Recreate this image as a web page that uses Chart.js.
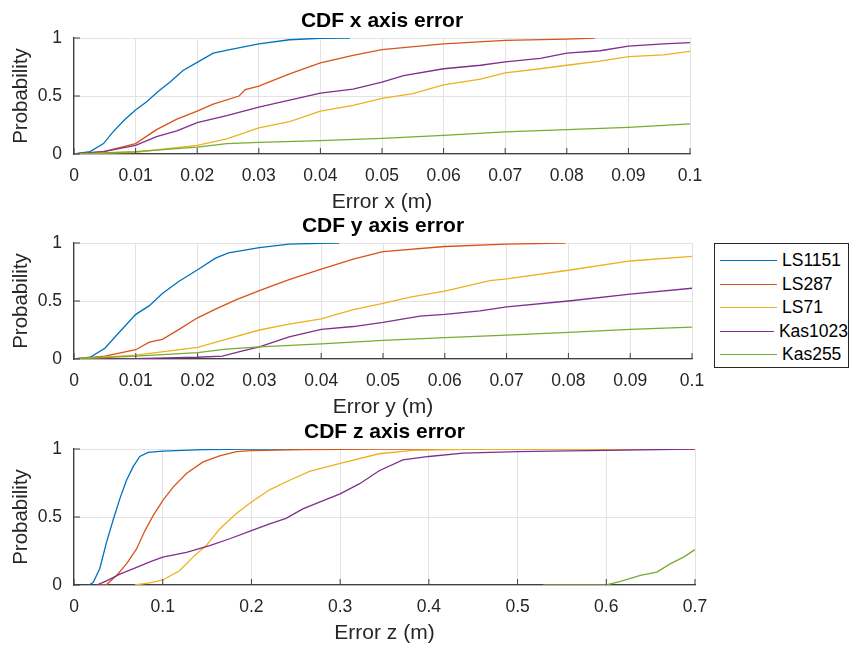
<!DOCTYPE html>
<html>
<head>
<meta charset="utf-8">
<script src="https://cdn.jsdelivr.net/npm/chart.js@4.4.1/dist/chart.umd.min.js"></script>
<style>
  body { margin: 0; background: #fff; }
  #fig { position: relative; width: 850px; height: 646px; overflow: hidden; font-family: "Liberation Sans", Arial, sans-serif; }
  #fig canvas { position: absolute; left: 0; }
  #legend { position: absolute; left: 714px; top: 243px; width: 135px; height: 125px; box-sizing: border-box;
            border: 1px solid #262626; background: #fff; padding-top: 5px; }
  #legend .item { height: 23.5px; display: flex; align-items: center; }
  #legend .item i { display: inline-block; width: 57px; height: 0; border-top: 1.3px solid; margin: 0 5px 0 5px; }
  #legend .item span { font-size: 17.5px; color: #000; }
</style>
</head>
<body>
<div id="fig">
  <canvas id="cx" width="720" height="215" style="top:0px"></canvas>
  <canvas id="cy" width="720" height="215" style="top:205px"></canvas>
  <canvas id="cz" width="720" height="235" style="top:411px"></canvas>
  <div id="legend"></div>
</div>
<script>
// series, in plotting order
const names = ['LS1151', 'LS287', 'LS71', 'Kas1023', 'Kas255'];
const colors = ['#0072BD', '#D95319', '#EDB120', '#7E2F8E', '#77AC30'];

// tick values and labels
const xyTicks = [0, 0.01, 0.02, 0.03, 0.04, 0.05, 0.06, 0.07, 0.08, 0.09, 0.1];
const xyTickLabels = ['0', '0.01', '0.02', '0.03', '0.04', '0.05', '0.06', '0.07', '0.08', '0.09', '0.1'];
const zTicks = [0, 0.1, 0.2, 0.3, 0.4, 0.5, 0.6, 0.7];
const zTickLabels = ['0', '0.1', '0.2', '0.3', '0.4', '0.5', '0.6', '0.7'];
const probTicks = [0, 0.5, 1];
const probTickLabels = ['0', '0.5', '1'];

// CDF x axis error: error (m) / probability
const errX_LS1151 = [0, 0.0026, 0.0048, 0.0064, 0.0083, 0.010, 0.0118, 0.0137, 0.0156, 0.0177, 0.020, 0.0226, 0.0253, 0.030, 0.035, 0.040, 0.0448];
const cdfX_LS1151 = [0, 0.02, 0.09, 0.195, 0.30, 0.38, 0.45, 0.54, 0.62, 0.72, 0.79, 0.87, 0.90, 0.95, 0.985, 0.998, 1];
const errX_LS287 = [0, 0.0048, 0.010, 0.0134, 0.0167, 0.020, 0.0226, 0.0268, 0.0278, 0.030, 0.035, 0.040, 0.0453, 0.050, 0.060, 0.070, 0.080, 0.0846];
const cdfX_LS287 = [0, 0.02, 0.09, 0.21, 0.30, 0.37, 0.43, 0.50, 0.555, 0.585, 0.69, 0.785, 0.85, 0.90, 0.95, 0.98, 0.99, 1];
const errX_LS71 = [0, 0.010, 0.020, 0.0248, 0.030, 0.035, 0.040, 0.0453, 0.050, 0.055, 0.060, 0.066, 0.070, 0.0757, 0.080, 0.0854, 0.090, 0.0957, 0.100];
const cdfX_LS71 = [0, 0.015, 0.075, 0.13, 0.225, 0.28, 0.37, 0.42, 0.48, 0.52, 0.595, 0.645, 0.70, 0.735, 0.765, 0.80, 0.84, 0.855, 0.885];
const errX_Kas1023 = [0, 0.0048, 0.010, 0.0134, 0.0167, 0.020, 0.0248, 0.030, 0.035, 0.040, 0.0453, 0.050, 0.0535, 0.060, 0.066, 0.070, 0.0757, 0.080, 0.0854, 0.090, 0.0957, 0.100];
const cdfX_Kas1023 = [0, 0.02, 0.075, 0.15, 0.20, 0.27, 0.33, 0.405, 0.465, 0.525, 0.56, 0.62, 0.675, 0.735, 0.765, 0.795, 0.825, 0.87, 0.89, 0.93, 0.95, 0.96];
const errX_Kas255 = [0, 0.010, 0.020, 0.0248, 0.030, 0.040, 0.050, 0.060, 0.070, 0.080, 0.090, 0.100];
const cdfX_Kas255 = [0, 0.02, 0.06, 0.09, 0.10, 0.115, 0.135, 0.16, 0.19, 0.21, 0.23, 0.26];

// CDF y axis error
const errY_LS1151 = [0, 0.0026, 0.005, 0.0074, 0.010, 0.0122, 0.0143, 0.017, 0.020, 0.0229, 0.025, 0.030, 0.0348, 0.040, 0.0429];
const cdfY_LS1151 = [0, 0.015, 0.093, 0.235, 0.385, 0.46, 0.565, 0.67, 0.77, 0.87, 0.915, 0.96, 0.99, 0.998, 1];
const errY_LS287 = [0, 0.005, 0.010, 0.0122, 0.0143, 0.017, 0.020, 0.0229, 0.0262, 0.030, 0.0348, 0.040, 0.0452, 0.0495, 0.050, 0.060, 0.070, 0.0795];
const cdfY_LS287 = [0, 0.025, 0.08, 0.145, 0.17, 0.255, 0.355, 0.43, 0.51, 0.59, 0.685, 0.775, 0.86, 0.92, 0.925, 0.97, 0.99, 1];
const errY_LS71 = [0, 0.010, 0.020, 0.025, 0.030, 0.0348, 0.040, 0.0452, 0.050, 0.0546, 0.060, 0.0673, 0.070, 0.080, 0.090, 0.100];
const cdfY_LS71 = [0, 0.033, 0.10, 0.175, 0.25, 0.30, 0.345, 0.425, 0.48, 0.535, 0.585, 0.675, 0.69, 0.765, 0.845, 0.885];
const errY_Kas1023 = [0, 0.010, 0.020, 0.024, 0.0273, 0.030, 0.0348, 0.040, 0.0452, 0.050, 0.056, 0.060, 0.0657, 0.070, 0.080, 0.090, 0.100];
const cdfY_Kas1023 = [0, 0.003, 0.015, 0.025, 0.07, 0.105, 0.19, 0.255, 0.28, 0.315, 0.37, 0.385, 0.415, 0.45, 0.50, 0.56, 0.61];
const errY_Kas255 = [0, 0.010, 0.020, 0.0246, 0.030, 0.040, 0.050, 0.060, 0.070, 0.080, 0.090, 0.100];
const cdfY_Kas255 = [0, 0.025, 0.055, 0.085, 0.105, 0.13, 0.16, 0.185, 0.205, 0.23, 0.255, 0.275];

// CDF z axis error
const errZ_LS1151 = [0.0172, 0.0217, 0.029, 0.0367, 0.0442, 0.0517, 0.0592, 0.0667, 0.0742, 0.0836, 0.100, 0.1455, 0.200, 0.300];
const cdfZ_LS1151 = [0, 0.02, 0.12, 0.315, 0.48, 0.635, 0.77, 0.87, 0.945, 0.975, 0.985, 0.995, 1, 1];
const errZ_LS287 = [0.0274, 0.0367, 0.048, 0.0592, 0.0705, 0.080, 0.0892, 0.100, 0.1117, 0.1267, 0.1455, 0.1642, 0.183, 0.200, 0.258, 0.344, 0.700];
const cdfZ_LS287 = [0, 0.003, 0.07, 0.155, 0.265, 0.40, 0.51, 0.62, 0.72, 0.82, 0.905, 0.95, 0.98, 0.988, 0.995, 1, 1];
const errZ_LS71 = [0.0686, 0.0855, 0.100, 0.119, 0.134, 0.149, 0.164, 0.183, 0.200, 0.2205, 0.243, 0.2655, 0.300, 0.344, 0.3818, 0.4385, 0.700];
const cdfZ_LS71 = [0, 0.015, 0.037, 0.105, 0.205, 0.29, 0.41, 0.525, 0.61, 0.70, 0.77, 0.835, 0.895, 0.965, 0.99, 0.997, 1];
const errZ_Kas1023 = [0.0255, 0.0367, 0.0517, 0.0705, 0.0855, 0.100, 0.1267, 0.153, 0.1755, 0.200, 0.2205, 0.239, 0.258, 0.2767, 0.300, 0.322, 0.344, 0.3707, 0.400, 0.4385, 0.500, 0.600, 0.700];
const cdfZ_Kas1023 = [0, 0.03, 0.08, 0.13, 0.17, 0.205, 0.24, 0.29, 0.34, 0.40, 0.45, 0.49, 0.56, 0.61, 0.67, 0.745, 0.84, 0.92, 0.945, 0.97, 0.98, 0.99, 1];
const errZ_Kas255 = [0.529, 0.600, 0.615, 0.6385, 0.657, 0.672, 0.687, 0.700];
const cdfZ_Kas255 = [0, 0, 0.025, 0.07, 0.095, 0.155, 0.205, 0.26];

Chart.defaults.font.family = '"Liberation Sans", Arial, sans-serif';

// small inward tick marks like matlab axes
const inwardTicks = {
  id: 'inwardTicks',
  afterDraw(chart) {
    const { ctx, chartArea: a, scales: { x, y } } = chart;
    ctx.save();
    ctx.strokeStyle = '#404040';
    ctx.lineWidth = 1;
    ctx.beginPath();
    x.ticks.forEach(t => {
      const px = x.getPixelForValue(t.value);
      ctx.moveTo(px, a.bottom);
      ctx.lineTo(px, a.bottom - 6);
    });
    y.ticks.forEach(t => {
      const py = y.getPixelForValue(t.value);
      ctx.moveTo(a.left, py);
      ctx.lineTo(a.left + 6, py);
    });
    ctx.stroke();
    ctx.restore();
  }
};

function makeCdf(id, title, xLabel, series, ticks, tickLabels, xMax, right) {
  const datasets = series.map((s, i) => ({
    label: names[i],
    data: s[0].map((v, k) => ({ x: v, y: s[1][k] })),
    borderColor: colors[i],
    borderWidth: 1.3,
    pointRadius: 0,
    tension: 0,
    order: series.length - i
  }));
  return new Chart(document.getElementById(id), {
    type: 'line',
    data: { datasets },
    plugins: [inwardTicks],
    options: {
      responsive: false,
      animation: false,
      layout: { padding: { left: 0, right: 720 - right, top: 0, bottom: 0 } },
      plugins: {
        legend: { display: false },
        tooltip: { enabled: false },
        title: {
          display: true, text: title, fullSize: false, color: '#000',
          font: { size: 21, weight: 'bold' }, padding: { top: 8.4, bottom: 4.4 }
        }
      },
      scales: {
        x: {
          type: 'linear', min: 0, max: xMax,
          afterBuildTicks: s => { s.ticks = ticks.map(v => ({ value: v })); },
          afterFit: s => { s.height = 61; },
          ticks: { autoSkip: false, maxRotation: 0, minRotation: 0, padding: 11.5, color: '#262626',
                   font: { size: 17.5 }, callback: (v, i) => tickLabels[i] },
          grid: { color: '#e3e3e3', drawTicks: false },
          border: { color: '#404040', width: 1.3 },
          title: { display: true, text: xLabel, color: '#262626', font: { size: 21 }, padding: { top: 0, bottom: 0.4 } }
        },
        y: {
          type: 'linear', min: 0, max: 1,
          afterBuildTicks: s => { s.ticks = probTicks.map(v => ({ value: v })); },
          afterFit: s => { s.width = 74; },
          ticks: { padding: 12, color: '#262626', font: { size: 17.5 }, callback: (v, i) => probTickLabels[i] },
          grid: { color: '#e3e3e3', drawTicks: false },
          border: { color: '#404040', width: 1.3 },
          title: { display: true, text: 'Probability', color: '#262626', font: { size: 20.5 }, padding: { top: 9, bottom: 0 } }
        }
      }
    }
  });
}

makeCdf('cx', 'CDF x axis error', 'Error x (m)', [
  [errX_LS1151, cdfX_LS1151], [errX_LS287, cdfX_LS287], [errX_LS71, cdfX_LS71],
  [errX_Kas1023, cdfX_Kas1023], [errX_Kas255, cdfX_Kas255]
], xyTicks, xyTickLabels, 0.1, 690);

makeCdf('cy', 'CDF y axis error', 'Error y (m)', [
  [errY_LS1151, cdfY_LS1151], [errY_LS287, cdfY_LS287], [errY_LS71, cdfY_LS71],
  [errY_Kas1023, cdfY_Kas1023], [errY_Kas255, cdfY_Kas255]
], xyTicks, xyTickLabels, 0.1, 692);

makeCdf('cz', 'CDF z axis error', 'Error z (m)', [
  [errZ_LS1151, cdfZ_LS1151], [errZ_LS287, cdfZ_LS287], [errZ_LS71, cdfZ_LS71],
  [errZ_Kas1023, cdfZ_Kas1023], [errZ_Kas255, cdfZ_Kas255]
], zTicks, zTickLabels, 0.7, 695);

// legend box next to the middle plot
const legend = document.getElementById('legend');
names.forEach((n, i) => {
  const row = document.createElement('div');
  row.className = 'item';
  const mark = document.createElement('i');
  mark.style.borderTopColor = colors[i];
  const label = document.createElement('span');
  label.textContent = n;
  row.appendChild(mark);
  row.appendChild(label);
  legend.appendChild(row);
});
</script>
</body>
</html>
